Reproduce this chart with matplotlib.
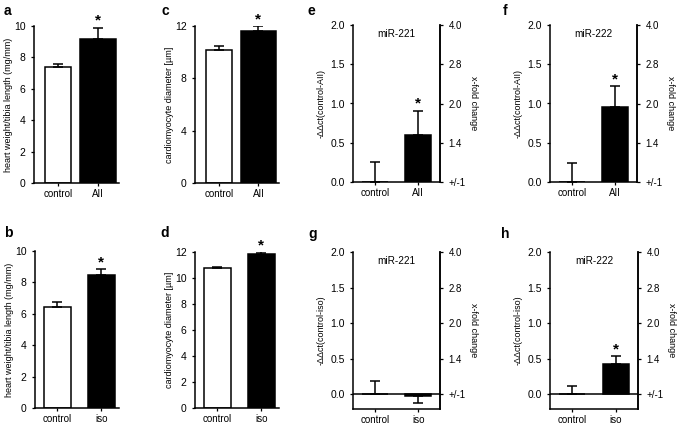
import matplotlib
matplotlib.use("Agg")
import matplotlib.pyplot as plt

plt.rcParams["font.family"] = ["Liberation Sans", "DejaVu Sans"]

# group names
groups_ang = ["control", "AII"]
groups_iso = ["control", "iso"]

# heart weight / tibia length (mg/mm)
hw_ang = [7.4, 9.2]
hw_ang_err = [0.2, 0.7]
hw_iso = [6.45, 8.45]
hw_iso_err = [0.3, 0.4]

# cardiomyocyte diameter (um)
cd_ang = [10.2, 11.6]
cd_ang_err = [0.25, 0.4]
cd_iso = [10.75, 11.85]
cd_iso_err = [0.1, 0.15]

# -ddCt values
mir221_ang = [0.0, 0.6]
mir221_ang_err = [0.26, 0.31]
mir222_ang = [0.0, 0.95]
mir222_ang_err = [0.24, 0.27]
mir221_iso = [0.0, -0.02]
mir221_iso_err = [0.18, 0.10]
mir222_iso = [0.0, 0.43]
mir222_iso_err = [0.12, 0.10]

fold_ticks = [0.0, 0.5, 1.0, 1.5, 2.0]
fold_labels = ["+/-1", "1.4", "2.0", "2.8", "4.0"]

W, H = 677, 426
fig = plt.figure(figsize=(W / 100, H / 100), dpi=100)


def px_axes(left, right, top, bottom):
    return fig.add_axes([left / W, 1 - bottom / H, (right - left) / W, (bottom - top) / H])


def letter(x, y, s):
    fig.text(x / W, 1 - y / H, s, fontsize=10, fontweight="bold", ha="center", va="center")


def draw_bars(ax, values, errs, widths, labels, star=True):
    colors = ["white", "black"]
    for xi, (v, e, w, c) in enumerate(zip(values, errs, widths, colors)):
        ax.bar(xi, v, width=w, color=c, edgecolor="black", linewidth=1.1, zorder=2)
        yerr = [[0], [e]] if v >= 0 else [[e], [0]]
        ax.errorbar(xi, v, yerr=yerr, fmt="none", ecolor="black", elinewidth=1.1,
                    capsize=3.5, capthick=1.1, zorder=3)
    if star:
        ax.annotate("*", (1, values[1] + errs[1]), xytext=(0, 0), textcoords="offset points",
                    ha="center", va="bottom", fontsize=11, fontweight="bold")
    ax.set_xticks([0, 1])
    ax.set_xticklabels(labels)
    ax.tick_params(direction="out", length=2.5, width=0.9, labelsize=7.5)
    ax.tick_params(axis="x", labelsize=7, pad=2)
    for side in ["top", "right"]:
        ax.spines[side].set_visible(False)
    for side in ["left", "bottom"]:
        ax.spines[side].set_linewidth(1.1)


def size_panel(box, values, errs, labels, ylim, yticks, ylabel, widths, xlim):
    ax = px_axes(*box)
    draw_bars(ax, values, errs, widths, labels)
    ax.set_xlim(*xlim)
    ax.set_ylim(*ylim)
    ax.set_yticks(yticks)
    ax.set_ylabel(ylabel, fontsize=6.5, labelpad=1)
    return ax


def mir_panel(box, values, errs, labels, title, ylabel, ymin, star=True):
    ax = px_axes(*box)
    draw_bars(ax, values, errs, [0.6, 0.6], labels, star=star)
    ax.set_xlim(-0.5, 1.5)
    ax.set_ylim(ymin, 2.0)
    ax.set_yticks([0.0, 0.5, 1.0, 1.5, 2.0])
    ax.set_yticklabels(["0.0", "0.5", "1.0", "1.5", "2.0"])
    if ymin < 0:
        ax.axhline(0, color="black", linewidth=1.1, zorder=4)
    ax.spines["right"].set_visible(True)
    ax.spines["right"].set_linewidth(1.1)
    ax.text(0.5, 0.94, title, transform=ax.transAxes, ha="center", va="center", fontsize=7.2)
    if ylabel:
        ax.set_ylabel(ylabel, fontsize=6.5, labelpad=3)
    ax2 = ax.twinx()
    ax2.set_ylim(ymin, 2.0)
    ax2.set_yticks(fold_ticks)
    ax2.set_yticklabels(fold_labels)
    ax2.tick_params(direction="out", length=2.5, width=0.9, labelsize=7)
    for side in ["top", "left", "bottom"]:
        ax2.spines[side].set_visible(False)
    ax2.spines["right"].set_linewidth(1.1)
    ax2.set_ylabel("x-fold change", fontsize=6.5, rotation=270, labelpad=9)
    return ax


# top row: angiotensin II
size_panel((34, 119, 26, 183), hw_ang, hw_ang_err, groups_ang, (0, 10), [0, 2, 4, 6, 8, 10],
           "heart weight/tibia length (mg/mm)", [0.65, 0.9], (-0.6, 1.52))
size_panel((195, 279, 26, 183), cd_ang, cd_ang_err, groups_ang, (0, 12), [0, 4, 8, 12],
           "cardiomyocyte diameter [µm]", [0.65, 0.9], (-0.6, 1.52))
mir_panel((353, 440, 25, 182), mir221_ang, mir221_ang_err, groups_ang, "miR-221",
          "-ΔΔct(control-AII)", 0.0)
mir_panel((550, 637, 25, 182), mir222_ang, mir222_ang_err, groups_ang, "miR-222",
          "-ΔΔct(control-AII)", 0.0)

# bottom row: isoproterenol
size_panel((35, 119, 251, 408), hw_iso, hw_iso_err, groups_iso, (0, 10), [0, 2, 4, 6, 8, 10],
           "heart weight/tibia length (mg/mm)", [0.62, 0.62], (-0.51, 1.4))
size_panel((195, 279, 252, 408), cd_iso, cd_iso_err, groups_iso, (0, 12), [0, 2, 4, 6, 8, 10, 12],
           "cardiomyocyte diameter [µm]", [0.62, 0.62], (-0.51, 1.4))
mir_panel((353, 440, 252, 409), mir221_iso, mir221_iso_err, groups_iso, "miR-221",
          "-ΔΔct(control-iso)", -0.21, star=False)
mir_panel((550, 638, 252, 409), mir222_iso, mir222_iso_err, groups_iso, "miR-222",
          "-ΔΔct(control-iso)", -0.21)

letter(7, 11, "a")
letter(165, 11, "c")
letter(311, 11, "e")
letter(505, 11, "f")
letter(8, 233, "b")
letter(165, 233, "d")
letter(313, 234, "g")
letter(505, 234, "h")

fig.savefig("out.png", dpi=100)
